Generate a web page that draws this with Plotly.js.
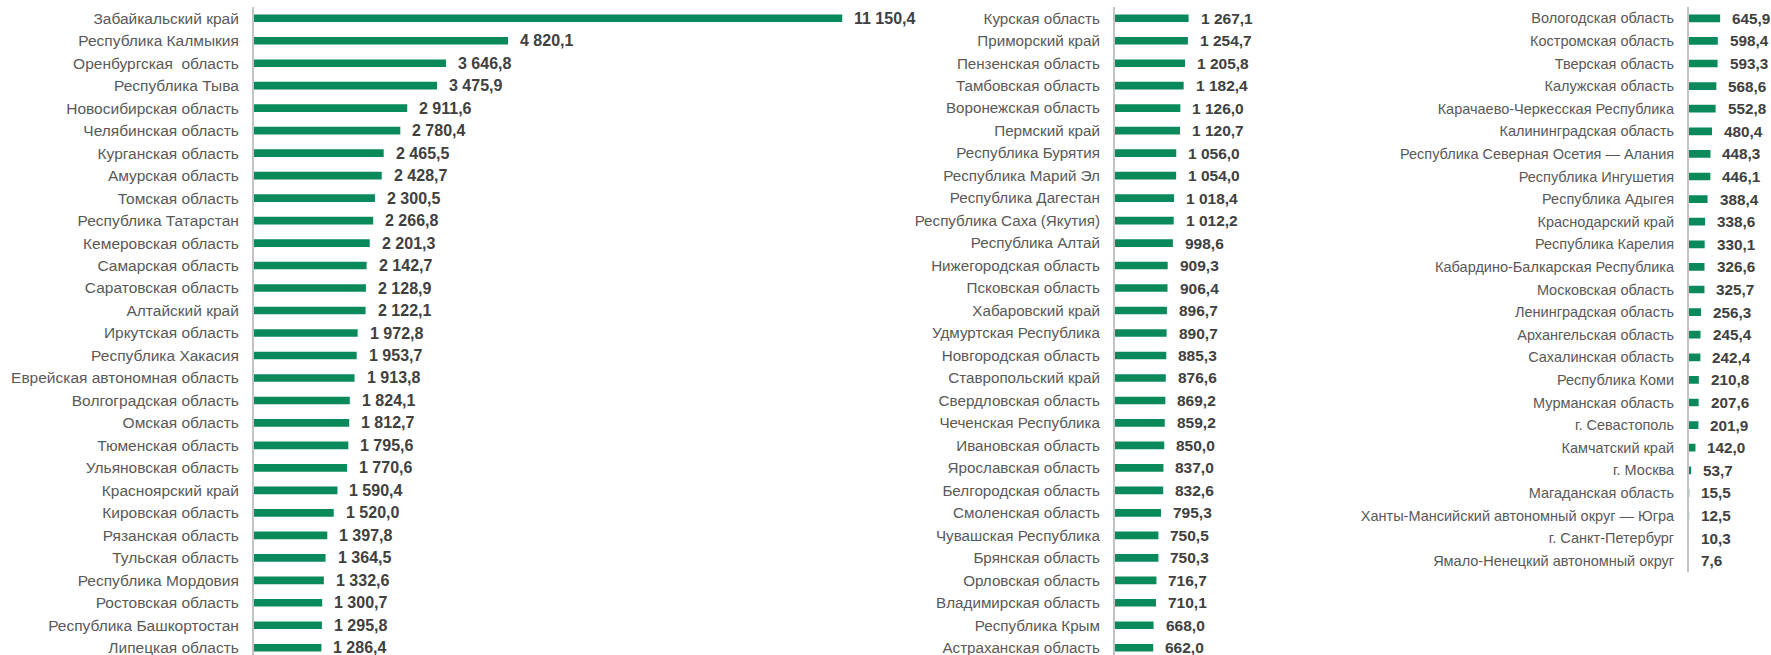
<!DOCTYPE html>
<html>
<head>
<meta charset="utf-8">
<script src="https://cdn.plot.ly/plotly-3.0.1.min.js"></script>
<style>html,body{margin:0;padding:0;background:#fff;overflow:hidden;}#chart{width:1771px;height:659px;}</style>
</head>
<body>
<div id="chart"></div>
<script>
const regions1 = ["Забайкальский край","Республика Калмыкия","Оренбургская  область","Республика Тыва","Новосибирская область","Челябинская область","Курганская область","Амурская область","Томская область","Республика Татарстан","Кемеровская область","Самарская область","Саратовская область","Алтайский край","Иркутская область","Республика Хакасия","Еврейская автономная область","Волгоградская область","Омская область","Тюменская область","Ульяновская область","Красноярский край","Кировская область","Рязанская область","Тульская область","Республика Мордовия","Ростовская область","Республика Башкортостан","Липецкая область"];
const values1 = [11150.4,4820.1,3646.8,3475.9,2911.6,2780.4,2465.5,2428.7,2300.5,2266.8,2201.3,2142.7,2128.9,2122.1,1972.8,1953.7,1913.8,1824.1,1812.7,1795.6,1770.6,1590.4,1520.0,1397.8,1364.5,1332.6,1300.7,1295.8,1286.4];

const regions2 = ["Курская область","Приморский край","Пензенская область","Тамбовская область","Воронежская область","Пермский край","Республика Бурятия","Республика Марий Эл","Республика Дагестан","Республика Саха (Якутия)","Республика Алтай","Нижегородская область","Псковская область","Хабаровский край","Удмуртская Республика","Новгородская область","Ставропольский край","Свердловская область","Чеченская Республика","Ивановская область","Ярославская область","Белгородская область","Смоленская область","Чувашская Республика","Брянская область","Орловская область","Владимирская область","Республика Крым","Астраханская область"];
const values2 = [1267.1,1254.7,1205.8,1182.4,1126.0,1120.7,1056.0,1054.0,1018.4,1012.2,998.6,909.3,906.4,896.7,890.7,885.3,876.6,869.2,859.2,850.0,837.0,832.6,795.3,750.5,750.3,716.7,710.1,668.0,662.0];

const regions3 = ["Вологодская область","Костромская область","Тверская область","Калужская область","Карачаево-Черкесская Республика","Калининградская область","Республика Северная Осетия — Алания","Республика Ингушетия","Республика Адыгея","Краснодарский край","Республика Карелия","Кабардино-Балкарская Республика","Московская область","Ленинградская область","Архангельская область","Сахалинская область","Республика Коми","Мурманская область","г. Севастополь","Камчатский край","г. Москва","Магаданская область","Ханты-Мансийский автономный округ — Югра","г. Санкт-Петербург","Ямало-Ненецкий автономный округ"];
const values3 = [645.9,598.4,593.3,568.6,552.8,480.4,448.3,446.1,388.4,338.6,330.1,326.6,325.7,256.3,245.4,242.4,210.8,207.6,201.9,142.0,53.7,15.5,12.5,10.3,7.6];

const W = 1771;
const H = 659;
const BAR_COLOR = '#0a8a5b';
const FONT = '"Liberation Sans", Arial, sans-serif';

function fmt(v) {
  const s = v.toFixed(1).split('.');
  const intPart = s[0].replace(/\B(?=(\d{3})+(?!\d))/g, ' ');
  return intPart + ',' + s[1];
}

const panels = [
  {cats: regions1, vals: values1, xa: 'x', ya: 'y', tickSize: 15.5, valSize: 16},
  {cats: regions2, vals: values2, xa: 'x2', ya: 'y2', tickSize: 15.2, valSize: 15.5},
  {cats: regions3, vals: values3, xa: 'x3', ya: 'y3', tickSize: 14.5, valSize: 15.3}
];

const traces = panels.map(p => ({
  type: 'bar',
  orientation: 'h',
  y: p.cats,
  x: p.vals,
  xaxis: p.xa,
  yaxis: p.ya,
  width: 0.34,
  marker: {color: BAR_COLOR, line: {width: 0}},
  hoverinfo: 'skip'
}));

const annotations = [];
panels.forEach(p => {
  p.cats.forEach((c, i) => {
    annotations.push({
      xref: p.xa, yref: p.ya,
      x: p.vals[i], y: c,
      text: fmt(p.vals[i]),
      showarrow: false,
      xanchor: 'left', yanchor: 'middle',
      xshift: 10,
      font: {family: FONT, size: p.valSize, color: '#404040', weight: 'bold'}
    });
  });
});

function xax(x0, x1, pxPerUnit) {
  return {
    domain: [x0 / W, x1 / W],
    range: [0, (x1 - x0) / pxPerUnit],
    showticklabels: false, showgrid: false, zeroline: false, showline: false, ticks: '',
    fixedrange: true
  };
}
function yax(anchor, n, domain, size) {
  return {
    anchor: anchor,
    type: 'category',
    domain: domain,
    range: [n - 0.5, -0.5],
    showline: true, linecolor: '#c3c3c3', linewidth: 1.5,
    showgrid: false, zeroline: false, ticks: '',
    ticklabelstandoff: 10,
    tickfont: {family: FONT, size: size, color: '#595959'},
    fixedrange: true
  };
}

const plotH = H - 7;
const layout = {
  width: 1771, height: H,
  margin: {l: 0, r: 0, t: 7, b: 0, pad: 0},
  paper_bgcolor: '#ffffff', plot_bgcolor: '#ffffff',
  showlegend: false,
  xaxis: Object.assign(xax(253.5, 900, 0.0528), {anchor: 'y'}),
  xaxis2: Object.assign(xax(1114.5, 1250, 0.0585), {anchor: 'y2'}),
  xaxis3: Object.assign(xax(1688.5, 1771, 0.0490), {anchor: 'y3'}),
  yaxis: yax('x', regions1.length, [0, 1], panels[0].tickSize),
  yaxis2: yax('x2', regions2.length, [0, 1], panels[1].tickSize),
  yaxis3: yax('x3', regions3.length, [1 - 565 / plotH, 1], panels[2].tickSize),
  annotations: annotations
};

Plotly.newPlot('chart', traces, layout, {staticPlot: true, displayModeBar: false});
</script>
</body>
</html>
